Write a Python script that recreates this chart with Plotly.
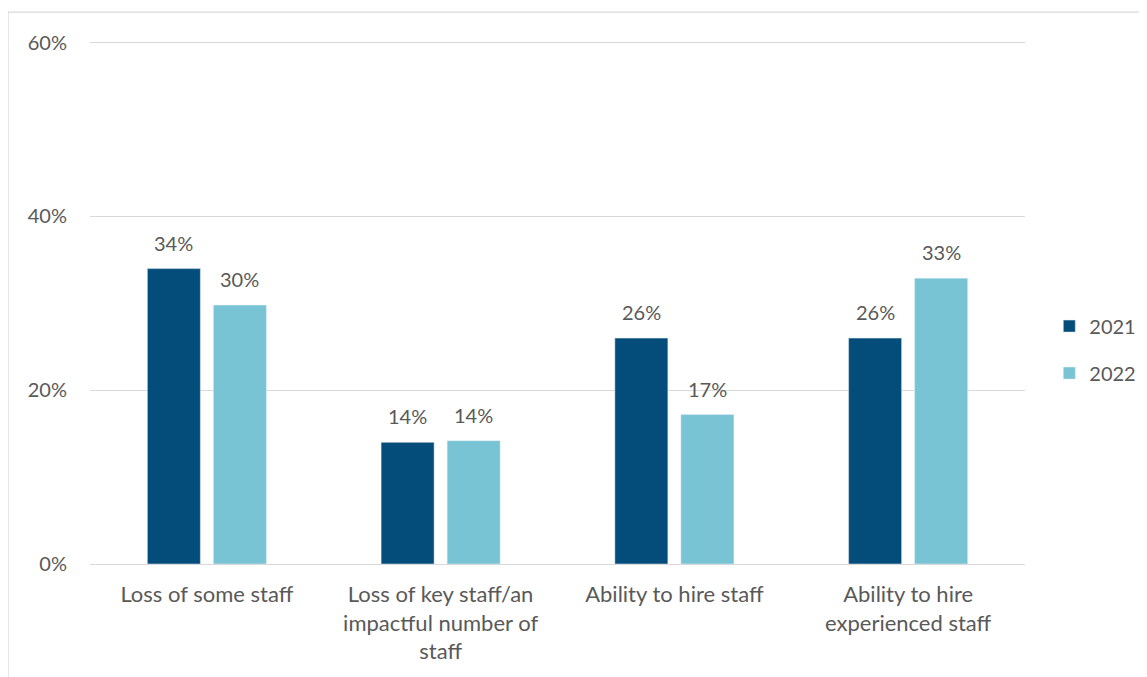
import plotly.graph_objects as go

categories = ["Loss of some staff", "Loss of key staff/an<br>impactful number of<br>staff",
              "Ability to hire staff", "Ability to hire<br>experienced staff"]
series_names = ["2021", "2022"]
values_2021 = [34, 14, 26, 26]
values_2022 = [29.8, 14.2, 17.2, 32.9]
tick_vals = [0, 20, 40, 60]
tick_text = ["0%", "20%", "40%", "60%"]

colors = ["#044D7B", "#78C4D4"]
font_family = "Lato, Open Sans, sans-serif"
gray = "#595959"
fs = 20

fig = go.Figure()
for name, vals, c in zip(series_names, [values_2021, values_2022], colors):
    fig.add_trace(go.Bar(
        x=categories, y=vals, name=name, marker_color=c, legendgroup=name,
        cliponaxis=False,
    ))

# data labels, placed above each bar of the group
for i, (vals, dx) in enumerate(zip([values_2021, values_2022], [-33, 33])):
    for cat, v in zip(categories, vals):
        fig.add_annotation(x=cat, y=v, xref="x", yref="y", text=f"{round(v)}%",
                           showarrow=False, yanchor="bottom", xshift=dx, yshift=12,
                           font=dict(size=fs, color=gray, family=font_family))

# page is offset by the 8px body margin, so compensate
fig.update_layout(
    width=1139, height=669,
    margin=dict(l=82, r=122, t=33, b=113, autoexpand=False),
    paper_bgcolor="white", plot_bgcolor="white",
    barmode="group", bargap=0.435, bargroupgap=0.197,
    font=dict(family=font_family, size=fs, color=gray),
    legend=dict(x=1.026, y=0.41, xanchor="left", yanchor="middle",
                font=dict(size=fs, color=gray), itemwidth=30,
                tracegroupgap=18, bgcolor="rgba(0,0,0,0)"),
    showlegend=True,
)
fig.update_yaxes(range=[0, 60.2], tickvals=tick_vals, ticktext=tick_text,
                 showgrid=True, gridcolor="#D9D9D9", gridwidth=1.3,
                 zeroline=True, zerolinecolor="#D9D9D9", zerolinewidth=1.3,
                 showline=False, ticklabelstandoff=22,
                 tickfont=dict(size=fs, color=gray))
fig.update_xaxes(showline=False, showgrid=False, tickangle=0,
                 ticklabelstandoff=15, tickfont=dict(size=22, color=gray))
fig.add_shape(type="rect", xref="paper", yref="paper",
              x0=-0.0877, x1=1.3, y0=-0.5, y1=1.0554,
              line=dict(color="#D9D9D9", width=1.3), fillcolor="rgba(0,0,0,0)",
              layer="below")

fig.write_html("out.html")
